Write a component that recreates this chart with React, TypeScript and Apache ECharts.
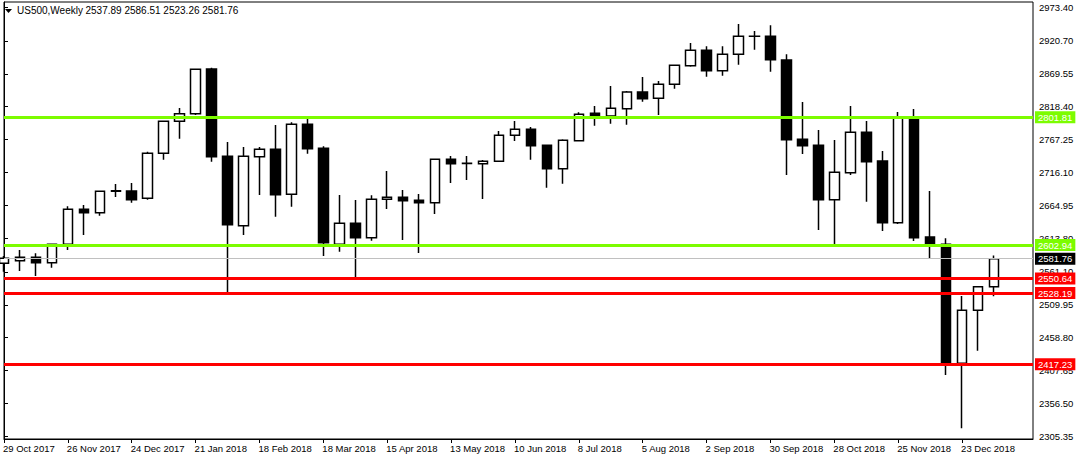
import React, { useEffect, useRef } from "react";
import * as echarts from "echarts";

const FONT = "Liberation Sans, Arial, sans-serif";
const FS = 9.5;

const symbolName = "US500,Weekly";

// weekly candles, first = 29 Oct 2017, last = 6 Jan 2019
const opens = [
  2574.4, 2578.6, 2583.8, 2575.5, 2604.0, 2658.5, 2653.3, 2686.8, 2687.1, 2675.7,
  2745.7, 2795.6, 2807.5, 2877.1, 2741.1, 2633.1, 2740.5, 2752.0, 2681.9, 2790.9,
  2753.5, 2604.0, 2636.7, 2614.4, 2674.1, 2677.2, 2672.5, 2668.9, 2736.4, 2730.1,
  2729.6, 2733.3, 2773.8, 2783.1, 2758.2, 2721.9, 2765.5, 2808.0, 2803.9, 2815.3,
  2841.3, 2831.4, 2853.2, 2882.3, 2906.1, 2874.5, 2899.9, 2927.9, 2927.9, 2891.1,
  2767.5, 2758.2, 2673.6, 2715.6, 2778.4, 2733.8, 2637.8, 2802.5, 2615.4, 2604.0,
  2418.7, 2501.2, 2537.89,
];
const closes = [
  2582.2, 2583.8, 2575.5, 2604.0, 2658.5, 2653.3, 2686.6, 2687.4, 2673.6, 2745.7,
  2795.6, 2807.5, 2876.6, 2740.5, 2634.6, 2741.1, 2752.0, 2681.4, 2790.9, 2753.0,
  2606.6, 2636.7, 2614.4, 2674.1, 2677.2, 2672.0, 2668.9, 2736.4, 2729.6, 2730.4,
  2733.3, 2773.8, 2783.1, 2757.7, 2721.9, 2766.0, 2806.5, 2803.9, 2815.8, 2841.3,
  2830.9, 2853.2, 2882.8, 2906.1, 2874.5, 2899.9, 2927.9, 2928.2, 2891.6, 2767.0,
  2757.7, 2673.6, 2716.1, 2778.4, 2732.8, 2637.8, 2802.5, 2614.4, 2605.0, 2418.7,
  2501.2, 2538.0, 2581.76,
];
const lows = [
  2561.5, 2562.5, 2554.7, 2567.7, 2595.2, 2618.6, 2648.7, 2677.7, 2668.9, 2673.6,
  2735.9, 2768.6, 2805.4, 2732.8, 2529.0, 2618.6, 2680.8, 2647.1, 2662.7, 2745.2,
  2586.0, 2592.6, 2551.5, 2609.7, 2659.0, 2610.8, 2590.5, 2651.3, 2699.5, 2704.2,
  2674.6, 2732.5, 2764.9, 2735.9, 2692.3, 2698.5, 2765.0, 2788.8, 2792.0, 2790.4,
  2826.2, 2805.4, 2846.5, 2880.7, 2865.1, 2866.7, 2883.8, 2907.2, 2872.9, 2712.0,
  2744.7, 2626.3, 2603.0, 2712.0, 2670.5, 2624.8, 2635.7, 2609.2, 2581.7, 2400.5,
  2317.5, 2438.4, 2523.26,
];
const highs = [
  2585.9, 2595.2, 2590.0, 2605.5, 2663.2, 2665.3, 2687.0, 2698.0, 2699.5, 2748.3,
  2796.5, 2816.3, 2877.0, 2879.2, 2763.4, 2755.6, 2755.6, 2789.9, 2794.0, 2799.2,
  2756.6, 2680.9, 2673.1, 2680.3, 2718.2, 2688.6, 2682.4, 2737.0, 2741.6, 2741.6,
  2735.4, 2780.5, 2796.1, 2786.8, 2758.5, 2767.5, 2809.6, 2819.5, 2850.6, 2842.8,
  2864.6, 2858.4, 2883.3, 2917.6, 2912.4, 2912.4, 2947.2, 2936.2, 2945.1, 2899.9,
  2825.7, 2782.1, 2766.5, 2819.5, 2796.1, 2749.4, 2810.1, 2814.8, 2687.1, 2613.4,
  2523.6, 2539.0, 2586.51,
];

const dateLabels = [
  "29 Oct 2017", "26 Nov 2017", "24 Dec 2017", "21 Jan 2018", "18 Feb 2018",
  "18 Mar 2018", "15 Apr 2018", "13 May 2018", "10 Jun 2018", "8 Jul 2018",
  "5 Aug 2018", "2 Sep 2018", "30 Sep 2018", "28 Oct 2018", "25 Nov 2018",
  "23 Dec 2018",
];
const dateTickIdx = [0, 4, 8, 12, 16, 20, 24, 28, 32, 36, 40, 44, 48, 52, 56, 60];

const priceTicks = [
  2973.4, 2920.7, 2869.55, 2818.4, 2767.25, 2716.1, 2664.95, 2613.8, 2561.1,
  2509.95, 2458.8, 2407.65, 2356.5, 2305.35,
];

const greenLevels = [2801.81, 2602.94];
const redLevels = [2550.64, 2528.19, 2417.23];
const lastPrice = 2581.76;

const GREEN = "#7CFC00";
const RED = "#FF0000";

export default function App() {
  const ref = useRef<HTMLDivElement>(null);

  useEffect(() => {
    if (!ref.current) return;
    const chart = echarts.init(ref.current, undefined, { renderer: "svg" });

    const data = opens.map((o, i) => [i, o, closes[i], lows[i], highs[i]]);
    const last = data.length - 1;
    const header = [opens[last], highs[last], lows[last], closes[last]]
      .map((v) => v.toFixed(2))
      .join(" ");

    const lvl = (v: number, color: string, width: number, bg: string) => ({
      yAxis: v,
      lineStyle: { color, width, type: "solid" },
      label: { backgroundColor: bg },
    });

    const option: any = {
      animation: false,
      backgroundColor: "#ffffff",
      textStyle: { fontFamily: FONT, fontSize: FS },
      grid: {
        left: 2,
        right: 44,
        top: 2,
        bottom: 21,
        show: true,
        borderColor: "#000",
        borderWidth: 1,
        backgroundColor: "#fff",
      },
      xAxis: {
        type: "value",
        min: 0,
        max: 64.44,
        axisLine: { show: true, onZero: false, lineStyle: { color: "#000", width: 1 } },
        splitLine: { show: false },
        axisTick: {
          show: true,
          length: 4,
          customValues: dateTickIdx,
          lineStyle: { color: "#000" },
        },
        axisLabel: {
          customValues: dateTickIdx,
          formatter: (v: number) => dateLabels[dateTickIdx.indexOf(Math.round(v))] ?? "",
          align: "left",
          margin: 4,
          color: "#000",
          fontFamily: FONT,
          fontSize: FS,
          padding: [0, 0, 0, -1],
        },
      },
      yAxis: {
        type: "value",
        position: "right",
        min: 2300.9,
        max: 2981.4,
        axisLine: { show: true, lineStyle: { color: "#000", width: 1 } },
        splitLine: { show: false },
        axisTick: {
          show: true,
          length: 4,
          customValues: priceTicks,
          lineStyle: { color: "#000" },
        },
        axisLabel: {
          customValues: priceTicks,
          formatter: (v: number) => v.toFixed(2),
          margin: 6,
          color: "#000",
          fontFamily: FONT,
          fontSize: FS,
        },
      },
      graphic: [
        {
          type: "polygon",
          shape: { points: [[5, 9], [12, 9], [8.5, 13]] },
          style: { fill: "#000" },
        },
        {
          type: "text",
          x: 17,
          y: 10.5,
          style: {
            text: symbolName,
            fill: "#000",
            font: `${FS + 0.5}px ${FONT}`,
            verticalAlign: "middle",
          },
        },
        {
          type: "text",
          x: 85.5,
          y: 10.5,
          style: {
            text: header,
            fill: "#000",
            font: `${FS + 0.5}px ${FONT}`,
            verticalAlign: "middle",
          },
        },
      ],
      series: [
        {
          type: "candlestick",
          data,
          encode: { x: 0, y: [1, 2, 3, 4] },
          barWidth: 10,
          itemStyle: {
            color: "#ffffff",
            color0: "#000000",
            borderColor: "#000000",
            borderColor0: "#000000",
            borderWidth: 1.5,
          },
          markLine: {
            silent: true,
            symbol: ["none", "none"],
            animation: false,
            z: 10,
            label: {
              show: true,
              position: "end",
              distance: 2,
              color: "#fff",
              fontFamily: FONT,
              fontSize: FS,
              padding: [1, 3, 1, 3],
              formatter: (p: any) => Number(p.value).toFixed(2),
            },
            data: [
              lvl(lastPrice, "#C0C0C0", 1, "#000"),
              ...greenLevels.map((v) => lvl(v, GREEN, 3, GREEN)),
              ...redLevels.map((v) => lvl(v, RED, 3, RED)),
            ],
          },
        },
      ],
    };

    chart.setOption(option);
    return () => chart.dispose();
  }, []);

  return (
    <div
      ref={ref}
      style={{ position: "absolute", left: 0, top: 0, width: 1077, height: 460 }}
    />
  );
}
